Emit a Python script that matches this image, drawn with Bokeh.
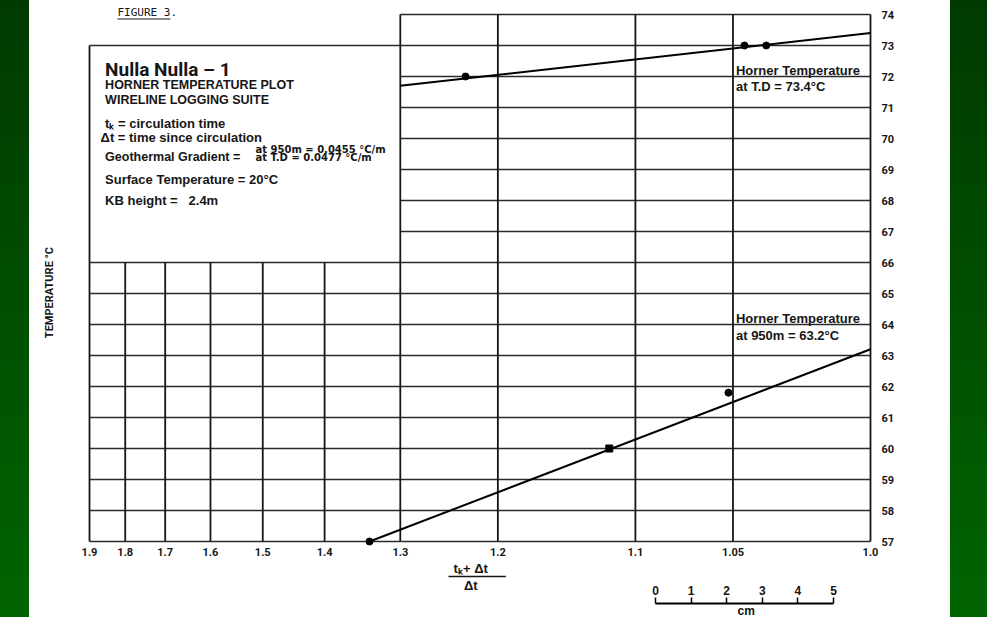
import numpy as np
from bokeh.plotting import figure
from bokeh.models import (Range1d, LogAxis, LinearAxis, FixedTicker, LinearScale,
                          Spacer, CustomJSTickFormatter)
from bokeh.layouts import row
from bokeh.core.properties import value
from bokeh.embed import file_html
from bokeh.resources import INLINE

# ---------------- data ----------------
x_tick_values = [1.9, 1.8, 1.7, 1.6, 1.5, 1.4, 1.3, 1.2, 1.1, 1.05, 1.0]
x_tick_labels = ["1.9", "1.8", "1.7", "1.6", "1.5", "1.4", "1.3", "1.2", "1.1", "1.05", "1.0"]
y_ticks = list(range(57, 75))
grid_full_x = [1.3, 1.2, 1.1, 1.05, 1.0]          # verticals over the full height
grid_low_x = [1.9, 1.8, 1.7, 1.6, 1.5, 1.4]       # verticals of the lower-left block

td_points_x = [1.23, 1.045, 1.036]
td_points_y = [72.0, 73.0, 73.0]
td_line_x = [1.3, 1.0]
td_line_y = [71.7, 73.4]

m950_points_x = [1.338, 1.116, 1.052]
m950_points_y = [57.0, 60.0, 61.8]
m950_line_x = [1.338, 1.0]
m950_line_y = [57.0, 63.2]

scale_ticks = [0, 1, 2, 3, 4, 5]
scale_labels = ["0", "1", "2", "3", "4", "5"]


def paper(L):
    """position of a label value on the one-cycle log paper"""
    return round(10.0 * L - 9.0, 6)


W, H = 921, 617
DEC = 781.0            # pixels per log decade
LEFT_PX, RIGHT_PX = 60.0, 80.0
PXDEG = 31.0
x_start = 10 ** (1 + LEFT_PX / DEC)
x_end = 10 ** (-RIGHT_PX / DEC)
y_start = 57 - (H - 541) / PXDEG
y_end = 74 + 14 / PXDEG


def T_at(page_y):
    return 57 + (549 - page_y) / PXDEG


p = figure(width=W, height=H, x_axis_type="log", x_range=Range1d(x_start, x_end),
           y_range=Range1d(y_start, y_end), output_backend="svg", toolbar_location=None,
           x_axis_location=None, y_axis_location=None, title=None,
           min_border=0, min_border_left=0, min_border_right=0,
           min_border_top=0, min_border_bottom=0)
p.background_fill_color = "white"
p.border_fill_color = "white"
p.outline_line_color = None
p.xgrid.visible = False
p.ygrid.visible = False

cm_px = 35.6
cm0 = 626.0
p.extra_x_ranges = {"cm": Range1d(-cm0 / cm_px, (W - cm0) / cm_px)}
p.extra_x_scales = {"cm": LinearScale()}

INK = "#161616"
NARROW = "Roboto"
SANS = "Liberation Sans"
WIDE = "DejaVu Sans"
RAISE = -4

# ---- grid of the paper ----
hx0, hx1, hy = [], [], []
for t in y_ticks:
    hx0.append(paper(1.3)); hx1.append(paper(1.0)); hy.append(t)
for t in y_ticks:
    if t <= 66:
        hx0.append(paper(1.9)); hx1.append(paper(1.3)); hy.append(t)
hx0.append(paper(1.9)); hx1.append(paper(1.3)); hy.append(73)
p.segment(x0=hx0, x1=hx1, y0=hy, y1=hy, line_color="#2a2a2a", line_width=1.5)

vx, vy0, vy1 = [], [], []
for L in grid_full_x:
    vx.append(paper(L)); vy0.append(57); vy1.append(74)
for L in grid_low_x:
    vx.append(paper(L)); vy0.append(57); vy1.append(66)
vx.append(paper(1.9)); vy0.append(66); vy1.append(73)
p.segment(x0=vx, x1=vx, y0=vy0, y1=vy1, line_color=INK, line_width=1.8)

# ---- Horner lines and readings ----
p.line([paper(v) for v in td_line_x], td_line_y, line_color="black", line_width=2)
p.line([paper(v) for v in m950_line_x], m950_line_y, line_color="black", line_width=2)
p.scatter([paper(v) for v in td_points_x], td_points_y, marker="circle", size=7, color="black")
p.scatter([paper(v) for v in m950_points_x], m950_points_y,
          marker=["circle", "square", "circle"], size=7, color="black")

# ---- axes ----
xaxis = LogAxis(ticker=FixedTicker(ticks=[paper(v) for v in x_tick_values]),
                formatter=CustomJSTickFormatter(
                    args=dict(vals=[paper(v) for v in x_tick_values], labs=x_tick_labels),
                    code="const i = vals.findIndex(v => Math.abs(v - tick) < 1e-6); return i >= 0 ? labs[i] : '';"),
                fixed_location=57)
xaxis.axis_line_color = None
xaxis.major_tick_line_color = None
xaxis.minor_tick_line_color = None
xaxis.major_label_standoff = 0
xaxis.major_label_text_font = NARROW
xaxis.major_label_text_font_style = "bold"
xaxis.major_label_text_font_size = "11px"
xaxis.major_label_text_color = INK
p.add_layout(xaxis, "below")

yaxis = LinearAxis(ticker=FixedTicker(ticks=y_ticks), fixed_location=paper(1.0))
yaxis.axis_line_color = None
yaxis.major_tick_line_color = None
yaxis.minor_tick_line_color = None
yaxis.major_label_standoff = 5
yaxis.major_label_text_font = NARROW
yaxis.major_label_text_font_style = "bold"
yaxis.major_label_text_font_size = "11px"
yaxis.major_label_text_color = INK
p.add_layout(yaxis, "right")

scale = LinearAxis(x_range_name="cm", bounds=(0, 5), ticker=FixedTicker(ticks=scale_ticks),
                   formatter=CustomJSTickFormatter(args=dict(labs=scale_labels),
                                                   code="return labs[Math.round(tick)];"),
                   fixed_location=T_at(611))
scale.axis_line_color = "black"
scale.axis_line_width = 2
scale.major_tick_line_color = "black"
scale.major_tick_line_width = 1.5
scale.major_tick_in = 0
scale.major_tick_out = 6
scale.minor_tick_line_color = None
scale.major_label_standoff = 3
scale.major_label_text_font = SANS
scale.major_label_text_font_style = "bold"
scale.major_label_text_font_size = "12px"
scale.major_label_text_color = INK
p.add_layout(scale, "above")

p.text(x=[2.55], y=[T_at(622)], text=["cm"], x_range_name="cm",
       text_font=value(SANS), text_font_style="bold", text_font_size="12px",
       text_color=INK, text_align="center", text_baseline="alphabetic", y_offset=RAISE)

# ---- annotations on the plot ----
def txt(L, T, s, size="12.5px", font=SANS, align="left", baseline="alphabetic", angle=0.0, xo=0):
    p.text(x=[paper(L)], y=[T], text=[s], text_font=value(font), text_font_style="bold",
           text_font_size=size, text_color=INK, text_align=align, text_baseline=baseline,
           angle=angle, x_offset=xo, y_offset=(RAISE if baseline == "alphabetic" else 0))

txt(1.05, 72.05, "Horner Temperature", size="13px", xo=3)
txt(1.05, 71.55, "at T.D = 73.4°C", size="13px", xo=3)
txt(1.05, 64.05, "Horner Temperature", size="13px", xo=3)
txt(1.05, 63.52, "at 950m = 63.2°C", size="13px", xo=3)

# text box
txt(1.855, T_at(81), "Nulla Nulla – 1", size="19px", font=NARROW)
txt(1.855, 71.61, "HORNER TEMPERATURE PLOT")
txt(1.855, 71.10, "WIRELINE LOGGING SUITE")
txt(1.855, 70.35, "tₖ = circulation time", size="13px")
txt(1.868, 69.90, "Δt = time since circulation", size="13px")
txt(1.855, 69.29, "Geothermal Gradient =", size="12.5px")
txt(1.513, T_at(160.5), "at 950m = 0.0455 °C/m", size="10px", font=WIDE)
txt(1.513, T_at(169), "at T.D = 0.0477 °C/m", size="10px", font=WIDE)
txt(1.855, 68.55, "Surface Temperature = 20°C", size="13px")
txt(1.855, 67.87, "KB height = \u00a0 2.4m", size="13px")

# figure number
p.text(x=[paper(1.821)], y=[73.94], text=["FIGURE 3."], text_font=value("DejaVu Sans Mono"),
       text_font_size="11px", text_color=INK, text_baseline="alphabetic", y_offset=RAISE)
p.segment(x0=[paper(1.821)], x1=[paper(1.688)], y0=[T_at(26.5)], y1=[T_at(26.5)],
          line_color=INK, line_width=1)

# axis titles
txt(2.025, 65.03, "TEMPERATURE °C", size="11px", font=NARROW, align="center",
    baseline="middle", angle=np.pi / 2)
txt(1.225, T_at(580), "tₖ+ Δt", size="13px", align="center")
p.segment(x0=[paper(1.247)], x1=[paper(1.193)], y0=[T_at(584)], y1=[T_at(584)],
          line_color=INK, line_width=1.5)
txt(1.225, T_at(597), "Δt", size="13px", align="center")

green = "linear-gradient(180deg, #003a00 0%, #006400 100%)"
left = Spacer(width=29, height=H, styles={"background": green})
right = Spacer(width=37, height=H, styles={"background": green})
layout = row(left, p, right, spacing=0)

open("out.html", "w").write(file_html(layout, INLINE))
